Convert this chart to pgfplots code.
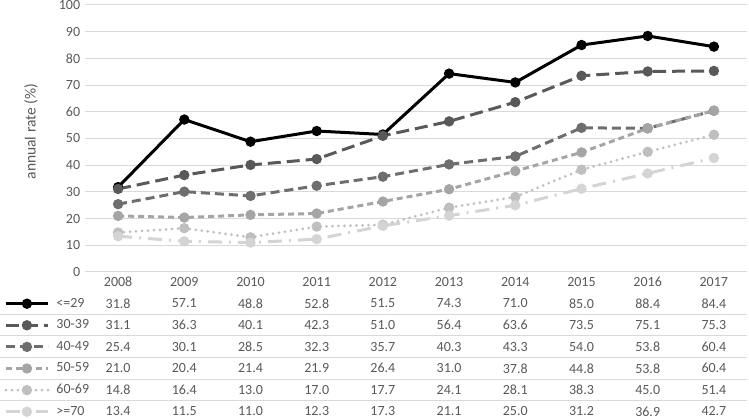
\documentclass[border=0pt]{standalone}
\usepackage{pgfplots}
\usepackage{pgfplotstable}
\pgfplotsset{compat=1.18}
\usepackage{fontspec}
\setmainfont{Carlito}

\definecolor{txt}{HTML}{595959}
\definecolor{gridc}{HTML}{D9D9D9}
\definecolor{cA}{HTML}{000000}
\definecolor{cB}{HTML}{595959}
\definecolor{cC}{HTML}{6E6E6E}
\definecolor{cD}{HTML}{A5A5A5}
\definecolor{cE}{HTML}{BFBFBF}
\definecolor{cF}{HTML}{D4D4D4}

% annual rate (%) by age group
\pgfplotstableread{
year a    b    c    d    e    f
2008 31.8 31.1 25.4 21.0 14.8 13.4
2009 57.1 36.3 30.1 20.4 16.4 11.5
2010 48.8 40.1 28.5 21.4 13.0 11.0
2011 52.8 42.3 32.3 21.9 17.0 12.3
2012 51.5 51.0 35.7 26.4 17.7 17.3
2013 74.3 56.4 40.3 31.0 24.1 21.1
2014 71.0 63.6 43.3 37.8 28.1 25.0
2015 85.0 73.5 54.0 44.8 38.3 31.2
2016 88.4 75.1 53.8 53.8 45.0 36.9
2017 84.4 75.3 60.4 60.4 51.4 42.7
}\rates

\newcommand\fs{\fontsize{14pt}{16pt}\selectfont}

\begin{document}
\fs
\begin{tikzpicture}
\useasboundingbox (0,0) rectangle (749pt,419pt);

\begin{axis}[
    at={(85pt,147pt)}, anchor=south west,
    scale only axis, width=662pt, height=267pt,
    xmin=2007.5, xmax=2017.5,
    ymin=0, ymax=100,
    xtick={2008,...,2017},
    ytick={0,10,...,100},
    ymajorgrids, grid style={gridc, line width=1pt},
    axis line style={draw=none},
    major tick length=0pt,
    tick label style={font=\fs, text=txt},
    /pgf/number format/assume math mode=true,
    /pgf/number format/1000 sep={},
    xticklabel style={yshift=-0.5pt},
    ylabel={annual rate (\%)},
    ylabel style={at={(axis description cs:-0.0816,0.526)}, anchor=center, font=\fontsize{15.5pt}{17pt}\selectfont, text=txt},
    every axis plot/.append style={line width=3pt, mark=*, mark size=3.6pt, mark options={solid}},
    legend style={at={(axis description cs:-0.122,-0.0775)}, anchor=north west,
        draw=none, fill=none, inner sep=0pt, row sep=0pt,
        nodes={inner sep=0pt, minimum height=21.6pt, text=txt, font=\fs}},
    legend cell align=left,
    legend image code/.code={\draw[mark repeat=2,mark phase=2] plot coordinates {(0pt,0pt)(21pt,0pt)(42pt,0pt)};},
    clip=false,
]
\addplot[cA] table[x=year, y=a] {\rates};
\addplot[cB, dash pattern=on 13pt off 6pt] table[x=year, y=b] {\rates};
\addplot[cC, dash pattern=on 9pt off 5pt] table[x=year, y=c] {\rates};
\addplot[cD, dash pattern=on 6pt off 4pt] table[x=year, y=d] {\rates};
\addplot[cE, line cap=round, dash pattern=on 0pt off 6pt] table[x=year, y=e] {\rates};
\addplot[cF, dash pattern=on 14pt off 7pt on 2pt off 7pt] table[x=year, y=f] {\rates};
\legend{\,\,\,<=29, \,\,\,30-39, \,\,\,40-49, \,\,\,50-59, \,\,\,60-69, \,\,\,>=70}
\end{axis}

\begin{axis}[
    at={(0pt,0pt)}, anchor=south west,
    scale only axis, width=747pt, height=147pt,
    xmin=2006.216, xmax=2017.5,
    ymin=-0.458, ymax=6.347, y dir=reverse,
    xtick=\empty,
    ytick={1.5,2.5,3.5,4.5,5.5}, yticklabels={},
    ymajorgrids, grid style={gridc, line width=1pt},
    axis line style={draw=none},
    major tick length=0pt,
    clip=false,
    nodes near coords={\pgfmathprintnumber[fixed,fixed zerofill,precision=1,assume math mode=true]{\pgfplotspointmeta}},
    nodes near coords style={anchor=center, text=txt, font=\fs},
]
\addplot[draw=none, mark=none, point meta=explicit] table[x=year, y expr=1, meta=a] {\rates};
\addplot[draw=none, mark=none, point meta=explicit] table[x=year, y expr=2, meta=b] {\rates};
\addplot[draw=none, mark=none, point meta=explicit] table[x=year, y expr=3, meta=c] {\rates};
\addplot[draw=none, mark=none, point meta=explicit] table[x=year, y expr=4, meta=d] {\rates};
\addplot[draw=none, mark=none, point meta=explicit] table[x=year, y expr=5, meta=e] {\rates};
\addplot[draw=none, mark=none, point meta=explicit] table[x=year, y expr=6, meta=f] {\rates};
\end{axis}
\end{tikzpicture}
\end{document}
